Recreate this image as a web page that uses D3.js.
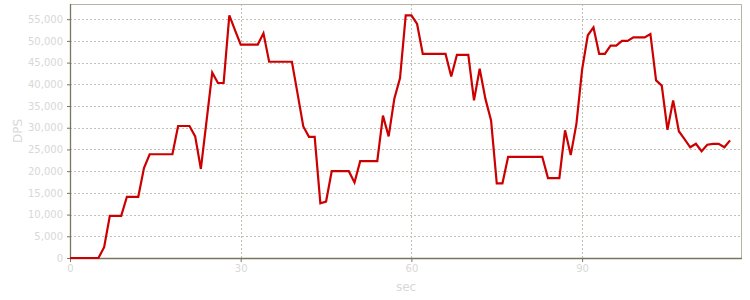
<!DOCTYPE html>
<html>
<head>
<meta charset="utf-8">
<script src="https://cdn.jsdelivr.net/npm/d3@7"></script>
<style>
  body { margin: 0; background: #fff; }
  svg { display: block; font-family: "DejaVu Sans", Verdana, sans-serif; }
</style>
</head>
<body>
<div id="chart"></div>
<script>
// DPS sampled once per second
var dps = [
  0, 0, 0, 0, 0, 0, 2500, 9700, 9700, 9700,
  14100, 14100, 14100, 20700, 23900, 23900, 23900, 23900, 23900, 30400,
  30400, 30400, 28000, 20500, 31600, 42700, 40300, 40300, 55900, 52500,
  49150, 49150, 49150, 49150, 51750, 45200, 45200, 45200, 45200, 45200,
  37800, 30300, 27900, 27900, 12600, 13000, 20000, 20000, 20000, 20000,
  17400, 22300, 22300, 22300, 22300, 32800, 28000, 36700, 41450, 55900,
  55900, 53900, 47000, 47000, 47000, 47000, 47000, 41800, 46800, 46800,
  46800, 36300, 43600, 36700, 31700, 17200, 17200, 23300, 23300, 23300,
  23300, 23300, 23300, 23300, 18400, 18400, 18400, 29400, 23700, 30900,
  43400, 51300, 53100, 47000, 47000, 48900, 48900, 50000, 50000, 50800,
  50800, 50800, 51600, 40900, 39700, 29500, 36300, 29200, 27400, 25500,
  26300, 24600, 26100, 26300, 26300, 25500, 27100
];
var xTicks = [0, 30, 60, 90];
var yTicks = [0, 5000, 10000, 15000, 20000, 25000, 30000, 35000, 40000, 45000, 50000, 55000];

var W = 750, H = 300;
var margin = {top: 4, right: 8, bottom: 42, left: 70};
var width = W - margin.left - margin.right,
    height = H - margin.top - margin.bottom;

var svg = d3.select("#chart").append("svg")
    .attr("width", W)
    .attr("height", H);

var g = svg.append("g")
    .attr("transform", "translate(" + margin.left + "," + margin.top + ")");

var x = d3.scaleLinear().domain([0, 118.1]).range([0, width]);
var y = d3.scaleLinear().domain([0, 58500]).range([height, 0]);

// grid
g.selectAll(".hgrid")
  .data(yTicks.filter(function(d) { return d > 0; }))
  .enter().append("line")
    .attr("x1", 0).attr("x2", width)
    .attr("y1", function(d) { return Math.round(y(d)) + 0.5; })
    .attr("y2", function(d) { return Math.round(y(d)) + 0.5; })
    .style("stroke", "#c2c0b2")
    .style("stroke-dasharray", "2,2");

g.selectAll(".vgrid")
  .data(xTicks.filter(function(d) { return d > 0; }))
  .enter().append("line")
    .attr("x1", function(d) { return Math.round(x(d)) + 0.5; })
    .attr("x2", function(d) { return Math.round(x(d)) + 0.5; })
    .attr("y1", 0).attr("y2", height)
    .style("stroke", "#c2c0b2")
    .style("stroke-dasharray", "2,2");

// frame : top and right lighter
g.append("path")
  .attr("d", "M0.5,0.5H" + (width - 0.5) + "V" + height)
  .style("fill", "none")
  .style("stroke", "#b7b5a2");

// axes
var yAxis = g.append("g")
  .call(d3.axisLeft(y).tickValues(yTicks).tickSize(3).tickPadding(4).tickFormat(d3.format(",")));
var xAxis = g.append("g")
  .attr("transform", "translate(0," + height + ")")
  .call(d3.axisBottom(x).tickValues(xTicks).tickSize(4).tickPadding(3));

[yAxis, xAxis].forEach(function(a) {
  a.select(".domain").style("stroke", "#77765f").style("stroke-width", 1.3);
  a.selectAll(".tick line").style("stroke", "#77765f");
  a.selectAll("text").style("fill", "#d8d8d8").style("font-size", "10px")
    .style("font-family", "'DejaVu Sans', Verdana, sans-serif");
});
yAxis.select(".domain").attr("d", "M0.5,0V" + height);
xAxis.select(".domain").attr("d", "M0,0.5H" + width);

// axis titles
svg.append("text")
  .attr("transform", "rotate(-90)")
  .attr("x", -(margin.top + height / 2))
  .attr("y", 22)
  .style("text-anchor", "middle")
  .style("font-size", "12px")
  .style("fill", "#d8d8d8")
  .text("DPS");

svg.append("text")
  .attr("x", margin.left + width / 2)
  .attr("y", 291)
  .style("text-anchor", "middle")
  .style("font-size", "12px")
  .style("fill", "#d8d8d8")
  .text("sec");

// line
g.append("path")
  .datum(dps)
  .attr("d", d3.line()
    .x(function(d, i) { return x(i); })
    .y(function(d) { return y(d); }))
  .style("fill", "none")
  .style("stroke", "#cc0000")
  .style("stroke-width", 2.2);
</script>
</body>
</html>
